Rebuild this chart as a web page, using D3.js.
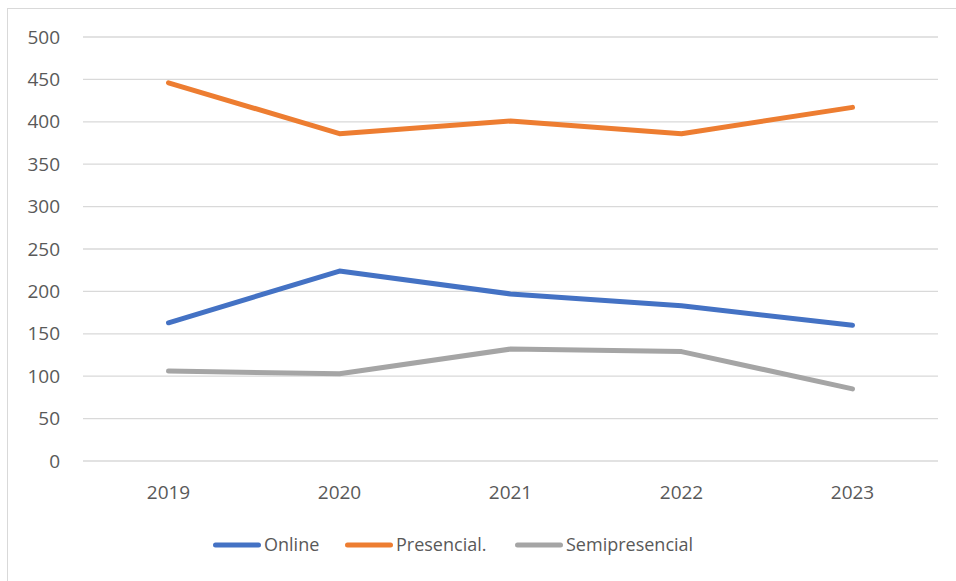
<!DOCTYPE html>
<html>
<head>
<meta charset="utf-8">
<script src="https://cdn.jsdelivr.net/npm/d3@7"></script>
<style>
  body { margin: 0; background: #fff; }
  text { font-family: "Open Sans", "Noto Sans", sans-serif; fill: #595959; }
</style>
</head>
<body>
<div id="chart"></div>
<script>
const years = ["2019", "2020", "2021", "2022", "2023"];
const online = [163, 224, 197, 183, 160];
const presencial = [446, 386, 401, 386, 417];
const semipresencial = [106, 103, 132, 129, 85];
const yTicks = [0, 50, 100, 150, 200, 250, 300, 350, 400, 450, 500];

const series = [
  {name: "Online", values: online, color: "#4472C4"},
  {name: "Presencial.", values: presencial, color: "#ED7D31"},
  {name: "Semipresencial", values: semipresencial, color: "#A5A5A5"}
];

const W = 956, H = 581;
const margin = {top: 37, right: 18, bottom: 120, left: 83},
  width = W - margin.left - margin.right,
  height = 461 - margin.top;

const root = d3.select("#chart").append("svg")
  .attr("width", W).attr("height", H);

// chart border
root.append("rect")
  .attr("x", 7.5).attr("y", 8.5)
  .attr("width", W).attr("height", H)
  .attr("fill", "none").attr("stroke", "#d9d9d9").attr("stroke-width", 1);

const svg = root.append("g")
  .attr("transform", "translate(" + margin.left + "," + margin.top + ")");

const x = d3.scaleBand().domain(years).range([0, width]);
const y = d3.scaleLinear().domain([0, 500]).range([height, 0]);

// gridlines
svg.append("g")
  .selectAll("line")
  .data(yTicks)
  .enter().append("line")
    .attr("x1", 0).attr("x2", width)
    .attr("y1", d => y(d)).attr("y2", d => y(d))
    .attr("stroke", "#d9d9d9").attr("stroke-width", 1.3);

// y labels
svg.append("g")
  .selectAll("text")
  .data(yTicks)
  .enter().append("text")
    .attr("x", -23).attr("y", d => y(d))
    .attr("dy", "0.35em")
    .attr("text-anchor", "end")
    .style("font-size", "19px")
    .text(d => d);

// x labels
svg.append("g")
  .selectAll("text")
  .data(years)
  .enter().append("text")
    .attr("x", d => x(d) + x.bandwidth() / 2)
    .attr("y", height + 31)
    .attr("dy", "0.35em")
    .attr("text-anchor", "middle")
    .style("font-size", "19px")
    .text(d => d);

// lines
const line = d3.line()
  .x((d, i) => x(years[i]) + x.bandwidth() / 2)
  .y(d => y(d));

svg.selectAll(".line")
  .data(series)
  .enter().append("path")
    .attr("fill", "none")
    .attr("stroke", d => d.color)
    .attr("stroke-width", 5)
    .attr("stroke-linecap", "round")
    .attr("stroke-linejoin", "round")
    .attr("d", d => line(d.values));

// legend
const legendX = [213, 345, 515];
const legend = root.append("g")
  .selectAll("g")
  .data(series)
  .enter().append("g")
    .attr("transform", (d, i) => "translate(" + legendX[i] + ",545)");
legend.append("line")
  .attr("x1", 2.5).attr("x2", 45.5)
  .attr("stroke", d => d.color)
  .attr("stroke-width", 5)
  .attr("stroke-linecap", "round");
legend.append("text")
  .attr("x", 51).attr("dy", "0.35em")
  .style("font-size", "18px")
  .text(d => d.name);
</script>
</body>
</html>
